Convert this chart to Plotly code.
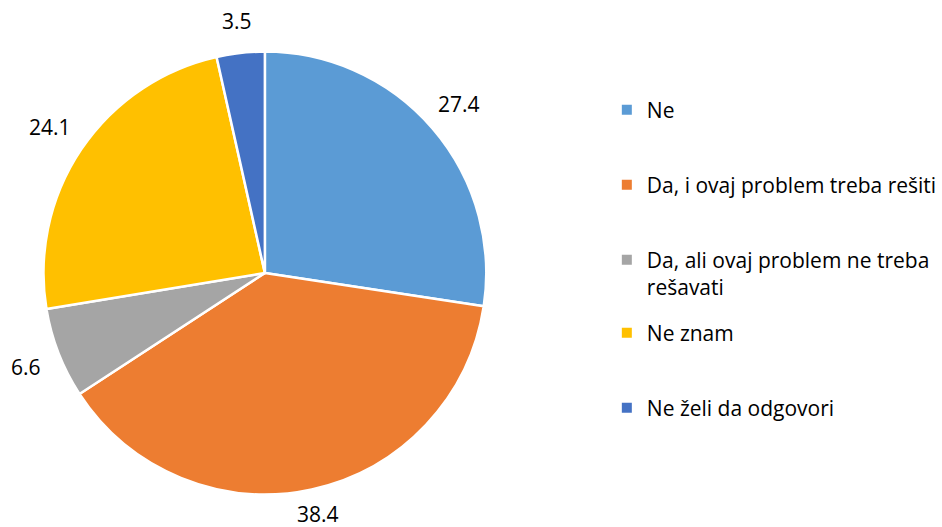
import math
import plotly.graph_objects as go

labels = ["Ne", "Da, i ovaj problem treba rešiti", "Da, ali ovaj problem ne treba rešavati", "Ne znam", "Ne želi da odgovori"]
legend_text = ["Ne", "Da, i ovaj problem treba rešiti", "Da, ali ovaj problem ne treba<br>rešavati", "Ne znam", "Ne želi da odgovori"]
values = [27.4, 38.4, 6.6, 24.1, 3.5]
colors = ["#5B9BD5", "#ED7D31", "#A5A5A5", "#FFC000", "#4472C4"]

W, H = 942, 527
FONT = "Open Sans"
FS = 21

# pie placement (pixels)
cx_px, cy_px, r_px = 268, 273, 224
dom_x = [(cx_px - r_px) / W, (cx_px + r_px) / W]
dom_y = [(H - cy_px - r_px) / H, (H - cy_px + r_px) / H]

fig = go.Figure(go.Pie(
    labels=labels,
    values=values,
    sort=False,
    direction="clockwise",
    rotation=0,
    marker=dict(colors=colors, line=dict(color="white", width=2.5)),
    textinfo="none",
    showlegend=False,
    hovertemplate="%{label}: %{value}<extra></extra>",
    domain=dict(x=dom_x, y=dom_y),
))

# data labels outside the slices (Excel "outside end" style): the label box's
# nearest edge sits a fixed gap beyond the rim, along the slice's mid-angle
total = sum(values)
cum = 0.0
gap = 19
hh = 10.5
for v in values:
    txt = f"{v:.1f}"
    hw = (len(txt) - 1) * 0.572 * FS / 2 + 0.267 * FS / 2
    mid = (cum + v / 2) / total * 2 * math.pi
    cum += v
    ux, uy = math.sin(mid), -math.cos(mid)
    ext = min(hw / abs(ux) if abs(ux) > 1e-6 else 1e9, hh / abs(uy) if abs(uy) > 1e-6 else 1e9)
    d = r_px + gap + ext
    px = cx_px + d * ux
    py = min(cy_px + d * uy, H - 13)
    fig.add_annotation(
        x=px / W, y=(H - py) / H, xref="paper", yref="paper",
        text=txt, showarrow=False, xanchor="center", yanchor="middle",
        font=dict(family=FONT, size=FS, color="#000000"),
    )

# legend: one entry per slice, each in its own legend box for Excel-like spacing
legend_centers = [110, 185, 260 + 13.5, 333, 408]
layout_legends = {}
for i, (t, c) in enumerate(zip(legend_text, colors)):
    key = "legend" if i == 0 else f"legend{i + 1}"
    fig.add_trace(go.Scatter(
        x=[None], y=[None], mode="markers", name=t,
        marker=dict(symbol="square", size=10, color=c),
        legend=key, showlegend=True, hoverinfo="skip",
    ))
    layout_legends[key] = dict(
        x=614 / W, xanchor="left",
        y=(H - legend_centers[i]) / H, yanchor="middle",
        valign="top",
        bgcolor="rgba(0,0,0,0)",
        font=dict(family=FONT, size=FS, color="#000000"),
    )

fig.update_layout(
    width=W, height=H,
    margin=dict(l=0, r=0, t=0, b=0),
    paper_bgcolor="white",
    plot_bgcolor="white",
    font=dict(family=FONT, size=FS, color="#000000"),
    xaxis=dict(visible=False),
    yaxis=dict(visible=False),
    **layout_legends,
)

fig.write_html("out.html", config={"displayModeBar": False},
               post_script="document.body.style.margin='0';")
